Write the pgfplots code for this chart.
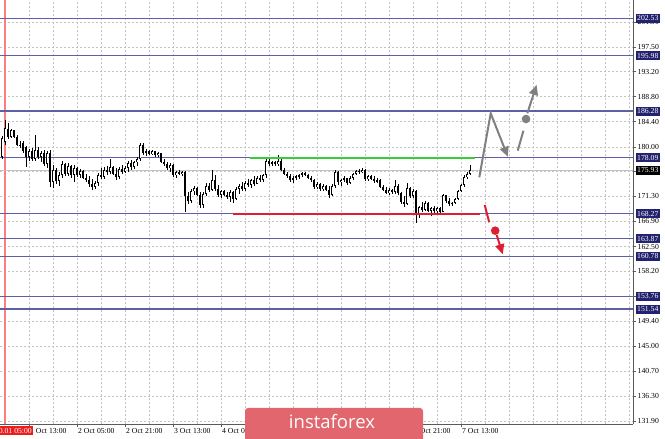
\documentclass[border=0pt]{standalone}
\usepackage{pgfplots}
\pgfplotsset{compat=1.18}
\usepackage{pgfplotstable}
\usepackage{fontspec}
\setmainfont{Liberation Serif}
\newfontfamily\wmfont{Open Sans}
\usetikzlibrary{arrows.meta}

\definecolor{levelline}{RGB}{95,95,165}
\definecolor{levelbox}{RGB}{34,34,110}
\definecolor{gridgray}{RGB}{195,195,195}
\definecolor{supgreen}{RGB}{55,205,55}
\definecolor{resred}{RGB}{222,30,50}
\definecolor{arrowgray}{RGB}{128,128,128}
\definecolor{sepred}{RGB}{255,125,125}
\definecolor{wmred}{RGB}{226,102,110}
\definecolor{axisgray}{RGB}{90,90,90}

\newcommand\lbl{\fontsize{7.7}{8}\selectfont}

% hourly candles, x = bar number
\pgfplotstableread{
x o h l c
0 178.3 181.9 177.8 181.5
1 180.8 184.7 180.3 183.3
2 183.2 184.2 181.4 181.8
3 181.8 183.1 181.5 182.9
4 182.9 183.0 181.6 181.8
5 181.8 182.0 180.1 180.4
6 180.4 181.0 179.8 180.1
7 180.6 181.0 179.0 179.2
8 179.9 180.2 176.5 178.3
9 178.3 179.6 177.5 179.3
10 179.3 179.8 177.6 177.9
11 177.9 182.1 177.5 179.5
12 179.5 180.0 177.9 178.3
13 178.3 179.2 177.4 178.9
14 178.9 179.4 176.6 177.0
15 177.0 179.3 176.3 179.0
16 179.0 179.4 173.0 173.9
17 173.9 176.8 172.8 176.0
18 176.0 176.3 173.5 174.0
19 174.0 175.5 173.2 175.0
20 175.0 177.5 174.6 177.0
21 177.0 177.2 174.8 175.3
22 175.3 177.1 174.9 176.6
23 176.6 176.8 174.5 175.0
24 175.0 176.8 173.8 176.2
25 176.2 176.4 174.7 175.1
26 175.1 176.1 174.5 175.8
27 175.8 175.9 174.3 174.6
28 174.6 175.3 173.8 174.1
29 174.1 174.8 172.9 173.4
30 173.4 174.3 172.5 172.9
31 172.9 174.0 172.6 173.6
32 173.6 175.4 173.2 175.0
33 175.0 176.2 174.3 174.7
34 174.7 176.5 174.4 176.0
35 176.0 176.6 175.0 175.5
36 175.5 177.9 175.2 176.4
37 176.4 176.7 175.0 175.3
38 175.3 176.3 174.2 174.7
39 174.7 176.5 174.4 176.1
40 176.1 176.8 175.3 175.6
41 175.6 176.6 175.4 176.3
42 176.3 177.5 175.6 177.2
43 177.2 177.7 176.0 176.4
44 176.4 177.6 176.1 177.3
45 177.3 178.3 176.7 177.9
46 177.9 180.6 177.6 180.4
47 180.4 180.6 178.6 179.0
48 179.0 179.6 178.4 179.3
49 179.3 179.5 178.5 178.7
50 178.7 179.4 178.5 179.2
51 179.2 179.3 178.2 178.5
52 178.5 179.1 178.3 178.9
53 178.9 179.0 177.2 177.4
54 177.4 177.8 176.6 176.9
55 176.9 177.3 175.9 176.2
56 176.2 177.1 175.6 176.8
57 176.8 176.9 174.7 175.0
58 175.0 175.7 174.6 175.5
59 175.5 175.9 175.0 175.2
60 175.2 175.8 174.9 175.6
61 175.6 175.8 168.6 171.3
62 171.3 172.1 169.9 170.5
63 170.5 172.6 170.2 172.2
64 172.2 173.2 171.5 172.8
65 172.8 173.0 171.3 171.6
66 171.6 172.1 169.3 169.8
67 169.8 172.0 169.3 171.8
68 171.8 173.6 171.4 173.2
69 173.2 173.6 172.0 172.5
70 172.5 175.9 172.2 174.1
71 174.1 175.0 172.3 172.6
72 172.6 173.3 171.2 171.6
73 171.6 172.5 171.0 172.2
74 172.2 172.5 171.3 171.6
75 171.6 172.0 170.9 171.2
76 171.2 172.4 170.3 172.0
77 172.0 172.3 170.2 170.8
78 170.8 172.9 170.6 172.6
79 172.6 173.5 171.7 173.2
80 173.2 173.9 172.3 172.6
81 172.6 174.0 172.3 173.7
82 173.7 174.4 172.9 173.3
83 173.3 174.4 172.8 174.1
84 174.1 174.8 173.2 173.5
85 173.5 174.9 173.4 174.6
86 174.6 175.0 173.8 174.1
87 174.1 175.3 173.9 175.0
88 175.0 177.9 174.6 177.6
89 177.6 178.3 176.7 177.0
90 177.0 177.6 176.6 177.3
91 177.3 177.5 176.7 176.9
92 176.9 178.5 176.6 177.6
93 177.6 177.8 175.7 176.0
94 176.0 176.3 175.0 175.3
95 175.3 175.6 174.5 174.8
96 174.8 175.2 173.8 174.2
97 174.2 174.8 173.6 174.5
98 174.5 175.0 174.1 174.8
99 174.8 175.3 174.3 175.1
100 175.1 175.6 174.7 175.4
101 175.4 175.6 174.8 175.0
102 175.0 175.3 174.3 174.5
103 174.5 174.9 173.9 174.2
104 174.2 174.4 172.6 172.9
105 172.9 173.8 172.6 173.5
106 173.5 173.6 172.3 172.6
107 172.6 173.4 172.3 173.1
108 173.1 173.3 172.2 172.5
109 172.5 173.2 171.0 171.6
110 171.6 173.5 171.3 173.1
111 173.1 176.0 172.8 175.6
112 175.6 175.8 173.3 173.8
113 173.8 174.4 173.2 174.2
114 174.2 174.8 173.8 174.5
115 174.5 174.6 173.3 173.6
116 173.6 174.9 173.5 174.6
117 174.6 175.4 174.2 175.2
118 175.2 176.0 175.0 175.8
119 175.8 176.1 175.3 175.6
120 175.6 176.3 175.4 176.0
121 176.0 176.1 174.0 174.4
122 174.4 175.1 174.0 174.8
123 174.8 175.0 174.1 174.4
124 174.4 174.9 173.7 174.0
125 174.0 174.5 173.6 174.1
126 174.1 174.3 172.7 173.0
127 173.0 173.3 172.2 172.5
128 172.5 172.9 171.7 171.9
129 171.9 172.7 171.6 172.4
130 172.4 172.6 171.7 172.0
131 172.0 174.2 171.8 173.2
132 173.2 173.4 171.6 171.9
133 171.9 172.0 170.0 170.3
134 170.3 171.3 169.5 170.0
135 170.0 173.6 169.8 172.7
136 172.7 173.0 171.0 171.4
137 171.4 172.6 171.0 172.2
138 172.2 172.4 166.6 168.0
139 168.0 169.6 167.6 169.4
140 169.4 170.3 168.6 169.0
141 169.0 170.5 168.8 170.1
142 170.1 170.3 168.5 168.8
143 168.8 169.5 167.8 169.3
144 169.3 169.6 168.4 168.7
145 168.7 169.5 168.4 169.2
146 169.2 169.4 168.4 168.6
147 168.6 171.8 168.5 171.5
148 171.5 171.6 170.2 170.5
149 170.5 171.0 169.7 170.0
150 170.0 170.4 169.6 170.2
151 170.2 171.0 169.9 170.8
152 170.8 172.5 170.6 172.3
153 172.3 173.5 172.0 173.3
154 173.3 175.0 173.0 174.7
155 174.7 175.6 174.3 175.2
156 175.2 176.8 175.0 175.93
}\candles

\begin{document}
\begin{tikzpicture}
\useasboundingbox (0,0) rectangle (665pt,439pt);
\begin{axis}[
    at={(0pt,15pt)}, anchor=south west,
    scale only axis, width=633pt, height=424pt,
    xmin=-0.667, xmax=210.33,
    ymin=131.37, ymax=205.76,
    axis x line=bottom, axis y line=right,
    axis line style={-, draw=axisgray, line width=0.8pt},
    tick align=outside,
    major tick length=3pt, minor tick length=0pt,
    tick style={axisgray, line width=0.6pt},
    xtick={9,25,41,57,73,89,105,121,137,153},
    % labels under the watermark are not shown
    xticklabels={1 Oct 13:00, 2 Oct 05:00, 2 Oct 21:00, 3 Oct 13:00, 4 Oct 05:00,
        {}, {}, {}, 6 Oct 21:00, 7 Oct 13:00},
    minor xtick={1,17,33,49,65,81,97,113,129,145,161,169,177,185,193,201,209},
    ytick={131.9,136.3,140.7,145.0,149.4,153.8,158.2,162.5,166.9,171.3,175.7,180.0,184.4,188.8,193.2,197.5,201.9},
    yticklabels={131.90,136.30,140.70,145.00,149.40,{},158.20,162.50,166.90,171.30,{},180.00,184.40,188.80,193.20,197.50,201.90},
    xticklabel style={font=\lbl, anchor=north west, inner sep=0pt, xshift=1pt, yshift=-1pt},
    yticklabel style={font=\lbl, anchor=west, inner sep=0pt, xshift=1.5pt},
    grid=both,
    major grid style={draw=gridgray, dash pattern=on 2pt off 2pt, line width=0.6pt},
    minor grid style={draw=gridgray, dash pattern=on 2pt off 2pt, line width=0.6pt},
    clip=false,
]
% period separator
\addplot[sepred, line width=1.4pt] coordinates {(1,131.37) (1,205.76)};
% current price line
\addplot[gridgray, line width=0.6pt] coordinates {(-0.667,175.93) (210.33,175.93)};
% support / resistance levels
\addplot[levelline, line width=1.2pt] coordinates {(-0.667,202.53) (210.33,202.53)};
\addplot[levelline, line width=1.2pt] coordinates {(-0.667,195.98) (210.33,195.98)};
\addplot[levelline, line width=1.2pt] coordinates {(-0.667,186.28) (210.33,186.28)};
\addplot[levelline, line width=1.2pt] coordinates {(-0.667,178.09) (210.33,178.09)};
\addplot[levelline, line width=1.2pt] coordinates {(-0.667,168.27) (210.33,168.27)};
\addplot[levelline, line width=1.2pt] coordinates {(-0.667,163.87) (210.33,163.87)};
\addplot[levelline, line width=1.2pt] coordinates {(-0.667,160.78) (210.33,160.78)};
\addplot[levelline, line width=1.2pt] coordinates {(-0.667,153.76) (210.33,153.76)};
\addplot[levelline, line width=1.2pt] coordinates {(-0.667,151.54) (210.33,151.54)};

% wicks
\addplot[draw=none, forget plot, error bars/.cd, y dir=both, y explicit, error mark=none,
    error bar style={draw=black, solid, line width=0.75pt}]
    table[x=x, y expr={(\thisrow{h}+\thisrow{l})/2}, y error expr={(\thisrow{h}-\thisrow{l})/2}] {\candles};
% bodies
\addplot[draw=none, forget plot, error bars/.cd, y dir=both, y explicit, error mark=none,
    error bar style={draw=black, solid, line width=2.2pt}]
    table[x=x, y expr={(\thisrow{o}+\thisrow{c})/2}, y error expr={abs(\thisrow{o}-\thisrow{c})/2}] {\candles};
% hollow bull bodies
\addplot[draw=none, forget plot, error bars/.cd, y dir=both, y explicit, error mark=none,
    error bar style={draw=white, solid, line width=0.6pt}]
    table[x=x, y expr={(\thisrow{o}+\thisrow{c})/2}, y error expr={max(\thisrow{c}-\thisrow{o}-0.35,0)/2}] {\candles};

% trading range
\addplot[supgreen, line width=2pt] coordinates {(82.67,178.09) (157.67,178.09)};
\addplot[resred, line width=2pt] coordinates {(77,168.27) (159.3,168.27)};

% scenarios
\draw[arrowgray, line width=2pt, -{Triangle[length=10pt,width=9pt]}]
    (axis cs:159.1,174.65) -- (axis cs:162.9,185.88) -- (axis cs:168.6,178.27);
\draw[arrowgray, line width=2pt] (axis cs:171.9,179.32) -- (axis cs:173.8,182.83);
\fill[arrowgray] (axis cs:174.67,184.88) circle[radius=4.3pt];
\draw[arrowgray, line width=2pt, -{Triangle[length=10pt,width=9pt]}]
    (axis cs:175.1,185.88) -- (axis cs:178.2,190.85);
\draw[resred, line width=2pt] (axis cs:160.9,169.79) -- (axis cs:162.4,166.76);
\fill[resred] (axis cs:164.4,165.29) circle[radius=4.3pt];
\draw[resred, line width=2pt, -{Triangle[length=10pt,width=9pt]}]
    (axis cs:164.9,164.53) -- (axis cs:166.9,161.15);

\coordinate (lv1) at (axis cs:210.33,202.53);
\coordinate (lv2) at (axis cs:210.33,195.98);
\coordinate (lv3) at (axis cs:210.33,186.28);
\coordinate (lv4) at (axis cs:210.33,178.09);
\coordinate (lv5) at (axis cs:210.33,175.93);
\coordinate (lv6) at (axis cs:210.33,168.27);
\coordinate (lv7) at (axis cs:210.33,163.87);
\coordinate (lv8) at (axis cs:210.33,160.78);
\coordinate (lv9) at (axis cs:210.33,153.76);
\coordinate (lv10) at (axis cs:210.33,151.54);
\end{axis}

\tikzset{lvbox/.style={fill=levelbox, text=white, font=\lbl, anchor=west,
    inner xsep=1.5pt, inner ysep=0pt, minimum height=9pt}}
\node[lvbox] at ([xshift=2.5pt]lv1) {202.53};
\node[lvbox] at ([xshift=2.5pt]lv2) {195.98};
\node[lvbox] at ([xshift=2.5pt]lv3) {186.28};
\node[lvbox] at ([xshift=2.5pt]lv4) {178.09};
\node[lvbox, fill=black] at ([xshift=2.5pt]lv5) {175.93};
\node[lvbox] at ([xshift=2.5pt]lv6) {168.27};
\node[lvbox] at ([xshift=2.5pt]lv7) {163.87};
\node[lvbox] at ([xshift=2.5pt]lv8) {160.78};
\node[lvbox] at ([xshift=2.5pt]lv9) {153.76};
\node[lvbox] at ([xshift=2.5pt]lv10) {151.54};

% first bar time
\node[fill={rgb,255:red,235;green,30;blue,30}, text=white, font=\lbl, anchor=east,
    inner xsep=1pt, inner ysep=1.5pt] at (33pt,8.5pt) {2019.10.01 05:00};

% watermark
\fill[wmred, rounded corners=3pt] (245pt,-5pt) rectangle (423pt,31pt);
\node[text=white, font=\wmfont\fontsize{18.5}{18.5}\selectfont] at (332pt,17pt) {instaforex};
\end{tikzpicture}
\end{document}
